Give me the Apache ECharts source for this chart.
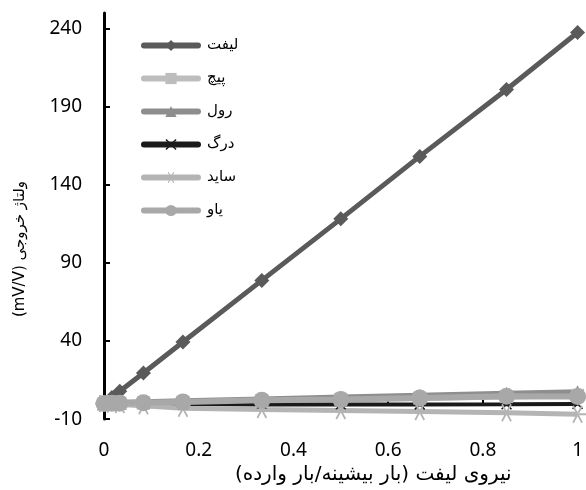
<!DOCTYPE html>
<html>
<head>
<meta charset="utf-8">
<script src="https://cdn.jsdelivr.net/npm/echarts@6/dist/echarts.min.js"></script>
<style>
  html, body { margin: 0; padding: 0; background: #fff; }
  #chart { width: 586px; height: 490px; }
</style>
</head>
<body>
<div id="chart"></div>
<script>
// load ratio (max load / applied load)
const xValues = [0, 0.0167, 0.0333, 0.0833, 0.1667, 0.3333, 0.5, 0.6667, 0.85, 1]

const lift = [0, 3.9, 7.8, 19.5, 39.4, 78.8, 118.2, 158.2, 201, 237.5]
const pitch = [0, 0.1, 0.2, 0.5, 0.9, 1.8, 2.7, 3.5, 4.4, 5.2]
const roll = [0, 0.2, 0.4, 0.8, 1.4, 2.6, 3.8, 5.0, 6.3, 7.2]
const drag = [0, -0.1, -0.1, -0.2, -0.4, -0.6, -0.7, -0.6, -0.5, -0.3]
const side = [0, -0.3, -0.6, -1.5, -3.0, -3.8, -4.5, -5.2, -6.0, -6.9]
const yaw = [0, 0.1, 0.2, 0.5, 1.0, 2.0, 2.6, 3.5, 4.6, 4.4]

const seriesNames = ['لیفت', 'پیچ', 'رول', 'درگ', 'ساید', 'یاو']
const yTicks = [-10, 40, 90, 140, 190, 240]
const xTicks = [0, 0.2, 0.4, 0.6, 0.8, 1]

const font = 'Noto Sans, DejaVu Sans, sans-serif'

const crossPath = 'path://M0,2 L2,0 L10,8 L18,0 L20,2 L12,10 L20,18 L18,20 L10,12 L2,20 L0,18 L8,10 Z'
const starPath = 'path://M0,9 L20,9 L20,11 L0,11 Z ' +
  'M15.87,1.84 L14.13,0.84 L4.13,18.16 L5.87,19.16 Z ' +
  'M4.13,1.84 L5.87,0.84 L15.87,18.16 L14.13,19.16 Z'

const toPoints = (values) => values.map((v, i) => [xValues[i], v])

const makeSeries = (name, values, color, symbol, symbolSize, width) => ({
  name,
  type: 'line',
  data: toPoints(values),
  symbol,
  symbolSize,
  lineStyle: { color, width },
  itemStyle: { color, borderWidth: 0 },
  emphasis: { disabled: true }
})

const chart = echarts.init(document.getElementById('chart'))

chart.setOption({
  animation: false,
  textStyle: { fontFamily: font },
  grid: { left: 104, right: 8, top: 13, bottom: 57 },
  legend: {
    left: 136,
    top: 33,
    orient: 'vertical',
    itemWidth: 54,
    itemHeight: 14,
    itemGap: 18,
    lineStyle: { width: 6, cap: 'round' },
    textStyle: { fontSize: 15, color: '#000', fontFamily: 'DejaVu Sans', padding: [0, 0, 0, 4] },
    data: seriesNames
  },
  xAxis: {
    type: 'value',
    min: 0,
    max: 1,
    axisLine: { onZero: true, lineStyle: { color: '#000', width: 2 } },
    axisTick: { inside: true, length: 5, lineStyle: { color: '#000', width: 2 }, customValues: xTicks },
    axisLabel: { customValues: xTicks, margin: 22, fontSize: 19, color: '#000' },
    splitLine: { show: false },
    name: '\u202Bنیروی لیفت (بار بیشینه/بار وارده)\u202C',
    nameLocation: 'middle',
    nameGap: 43,
    nameTextStyle: { fontSize: 20, color: '#000', fontFamily: 'DejaVu Sans', padding: [0, 0, 0, 65] }
  },
  yAxis: {
    type: 'value',
    min: -10,
    max: 250,
    axisLine: { lineStyle: { color: '#000', width: 3 } },
    axisTick: { inside: true, length: 6, lineStyle: { color: '#000', width: 2 }, customValues: yTicks },
    axisLabel: { customValues: yTicks, margin: 22, fontSize: 19, color: '#000' },
    splitLine: { show: false },
    name: '(mV/V) ولتاژ خروجی',
    nameLocation: 'middle',
    nameRotate: 90,
    nameGap: 76,
    nameTextStyle: { fontSize: 15, color: '#000', fontFamily: 'DejaVu Sans', padding: [0, 66, 0, 0] }
  },
  series: [
    makeSeries(seriesNames[0], lift, '#5a5a5a', 'diamond', 15, 5),
    makeSeries(seriesNames[1], pitch, '#bdbdbd', 'rect', 13, 6),
    makeSeries(seriesNames[2], roll, '#8e8e8e', 'triangle', 14, 6),
    makeSeries(seriesNames[3], drag, '#1a1a1a', crossPath, 11, 4),
    makeSeries(seriesNames[4], side, '#b4b4b4', starPath, 18, 5),
    makeSeries(seriesNames[5], yaw, '#a8a8a8', 'circle', 17, 6)
  ]
})
</script>
</body>
</html>
